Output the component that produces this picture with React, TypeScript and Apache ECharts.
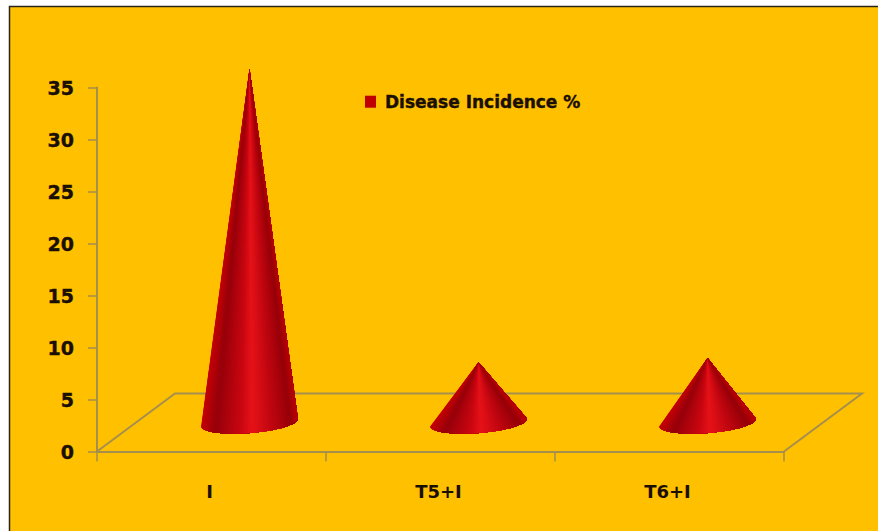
import React, { useEffect, useRef } from "react";
import * as echarts from "echarts";

const categories = ["I", "T5+I", "T6+I"];
const incidence = [34, 5.8, 6.2];
const yTicks = { min: 0, max: 35, interval: 5 };
const seriesName = "Disease Incidence %";

const DEPTH_X = 76;
const DEPTH_Y = -58;
const BASE_RX = 48.5;
const BASE_RY = 10.5;
const BASE_TILT = -0.08;
const LINE = "#a58f4c";
const FONT = "'DejaVu Sans', sans-serif";
const TEXT = "#1a0f00";

// Shading across the cone's width, left to right: [position, r, g, b]
const SHADE: number[][] = [
  [0, 196, 0, 6],
  [0.14, 150, 0, 10],
  [0.4, 200, 6, 16],
  [0.52, 230, 18, 24],
  [0.72, 192, 6, 16],
  [0.92, 150, 0, 8],
  [1, 186, 0, 6],
];

function shadeAt(f: number) {
  for (let i = 1; i < SHADE.length; i++) {
    if (f <= SHADE[i][0]) {
      const a = SHADE[i - 1];
      const b = SHADE[i];
      const k = (f - a[0]) / (b[0] - a[0]);
      const c = [1, 2, 3].map((j) => Math.round(a[j] + (b[j] - a[j]) * k));
      return `rgb(${c[0]},${c[1]},${c[2]})`;
    }
  }
  return "rgb(186,0,6)";
}

function renderCone(_params: any, api: any) {
  const base = api.coord([api.value(0), 0]);
  const top = api.coord([api.value(0), api.value(1)]);
  const cx = base[0] + DEPTH_X / 2;
  const cy = base[1] + DEPTH_Y / 2;
  const ax = top[0] + DEPTH_X / 2;
  const ay = top[1] + DEPTH_Y / 2;
  const cos = Math.cos(BASE_TILT);
  const sin = Math.sin(BASE_TILT);
  const rim = (t: number) => {
    const ex = BASE_RX * Math.cos(t);
    const ey = BASE_RY * Math.sin(t);
    return [cx + ex * cos - ey * sin, cy + ex * sin + ey * cos];
  };
  const steps = 64;
  const rimPoints: number[][] = [];
  for (let i = 0; i <= steps; i++) {
    rimPoints.push(rim(Math.PI - (i / steps) * Math.PI));
  }
  // Painter's order: each layer covers from its own rim point to the far end,
  // so neighbouring shades overlap and leave no seams.
  const children: any[] = [];
  for (let i = 0; i < steps; i++) {
    const mid = Math.PI - ((i + 0.5) / steps) * Math.PI;
    const color = shadeAt((1 + Math.cos(mid)) / 2);
    children.push({
      type: "polygon",
      shape: { points: [[ax, ay], ...rimPoints.slice(i)] },
      style: { fill: color, stroke: "none" },
    });
  }
  return { type: "group", children };
}

function renderFloor(params: any, api: any) {
  const sys = params.coordSys;
  const y0 = api.coord([0, 0])[1];
  const x0 = sys.x;
  const x1 = sys.x + sys.width;
  const dx = 78;
  return {
    type: "polyline",
    shape: {
      points: [
        [x0, y0],
        [x0 + dx, y0 + DEPTH_Y],
        [x1 + dx, y0 + DEPTH_Y],
        [x1, y0],
      ],
    },
    style: { stroke: LINE, lineWidth: 2, fill: "none" },
  };
}

export default function App() {
  const ref = useRef<HTMLDivElement>(null);
  useEffect(() => {
    document.body.style.margin = "0";
    const chart = echarts.init(ref.current!, undefined, { renderer: "svg" });
    chart.setOption({
      animation: false,
      backgroundColor: "#ffffff",
      graphic: [
        {
          type: "rect",
          z: -10,
          shape: { x: 9.5, y: 6.5, width: 880, height: 530 },
          style: { fill: "#ffc000", stroke: "#2a2418", lineWidth: 1.5 },
        },
      ],
      grid: { left: 97, top: 87.5, width: 687, height: 364, containLabel: false },
      legend: {
        left: 365,
        top: 93,
        padding: 0,
        itemWidth: 11,
        itemHeight: 12,
        data: [{ name: seriesName, icon: "rect", itemStyle: { color: "#c00000" } }],
        textStyle: {
          fontFamily: FONT,
          fontWeight: "bold",
          fontSize: 17,
          color: TEXT,
          padding: [0, 0, 0, 4],
          textBorderColor: TEXT,
          textBorderWidth: 0.4,
        },
      },
      xAxis: {
        type: "category",
        data: categories,
        boundaryGap: true,
        axisLine: { lineStyle: { color: LINE, width: 2 } },
        axisTick: { show: true, alignWithLabel: false, length: 10, lineStyle: { color: LINE, width: 1.5 } },
        axisLabel: {
          margin: 31,
          padding: [0, 4, 0, 0],
          fontFamily: FONT,
          fontWeight: "bold",
          fontSize: 18,
          color: TEXT,
        },
      },
      yAxis: {
        type: "value",
        min: yTicks.min,
        max: yTicks.max,
        interval: yTicks.interval,
        splitLine: { show: false },
        axisLine: { show: true, lineStyle: { color: LINE, width: 2 } },
        axisTick: { show: true, length: 9, lineStyle: { color: LINE, width: 1.5 } },
        axisLabel: {
          margin: 23,
          fontFamily: FONT,
          fontWeight: "bold",
          fontSize: 19,
          color: TEXT,
          textBorderColor: TEXT,
          textBorderWidth: 0.4,
        },
      },
      series: [
        {
          type: "custom",
          name: "floor",
          silent: true,
          z: 1,
          data: [[0]],
          clip: false,
          renderItem: renderFloor,
        },
        {
          type: "custom",
          name: seriesName,
          z: 2,
          clip: false,
          itemStyle: { color: "#c00000" },
          encode: { x: 0, y: 1 },
          data: incidence.map((v, i) => [i, v]),
          renderItem: renderCone,
        },
      ],
    });
    return () => chart.dispose();
  }, []);
  return <div ref={ref} style={{ width: 878, height: 531 }} />;
}
